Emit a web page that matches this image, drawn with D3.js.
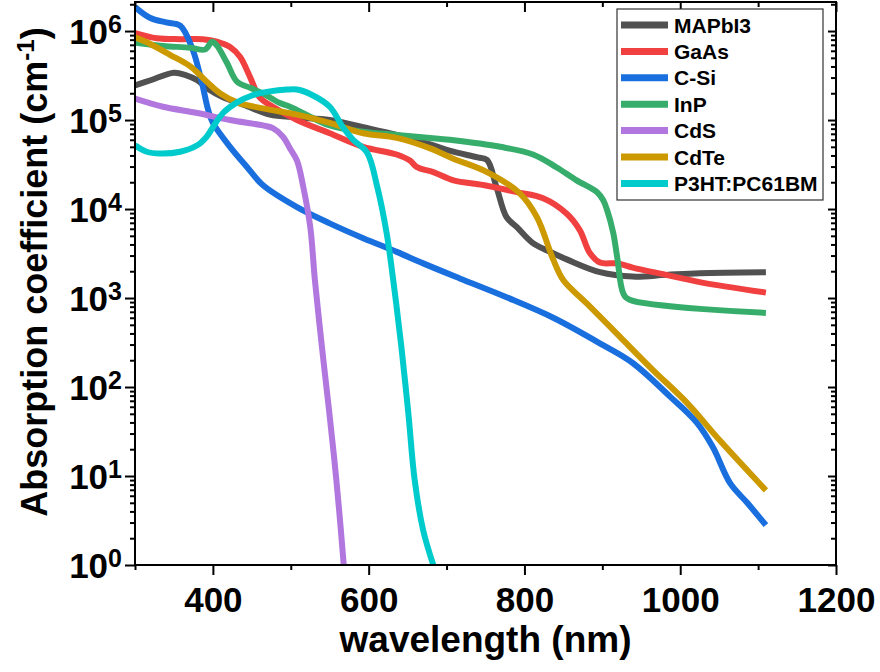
<!DOCTYPE html>
<html><head><meta charset="utf-8">
<script src="https://cdn.jsdelivr.net/npm/d3@7"></script>
<style>
body{margin:0;background:#fff}
svg{display:block}
text{font-family:Arial,"Liberation Sans",sans-serif;font-weight:bold;fill:#000}
</style>
</head><body><svg id="c" width="880" height="672"></svg>
<script>
// ---------- data ----------
const seriesNames = ["MAPbI3", "GaAs", "C-Si", "InP", "CdS", "CdTe", "P3HT:PC61BM"];
const seriesColors = ["#515151", "#F14040", "#1A6FDF", "#37AD6B", "#B177DE", "#CC9900", "#00CBCC"];

const mapbi3WL  = [300,320,350,365,380,395,413,440,473,508,550,593,636,680,705,740,752,764,777,790,810,830,855,897,939,982,1025,1110];
const mapbi3Abs = [2.45e5,2.8e5,3.4e5,3.2e5,2.8e5,2.2e5,1.8e5,1.48e5,1.15e5,1.07e5,1.0e5,8.3e4,6.8e4,5.3e4,4.5e4,3.8e4,3.55e4,1.78e4,8.1e3,6.3e3,4.2e3,3.4e3,2.7e3,1.95e3,1.74e3,1.82e3,1.9e3,1.95e3];

const gaasWL  = [300,328,358,387,405,422,435,448,460,477,508,550,593,636,653,662,683,709,747,790,824,854,871,884,897,919,939,982,1025,1110];
const gaasAbs = [9.5e5,8.3e5,8.1e5,8.1e5,7.6e5,6.6e5,5.1e5,3.0e5,1.8e5,1.41e5,1.0e5,7.1e4,5.0e4,4.1e4,3.5e4,2.95e4,2.6e4,2.1e4,1.86e4,1.55e4,1.32e4,8.9e3,5.8e3,3.2e3,2.5e3,2.45e3,2.2e3,1.82e3,1.51e3,1.15e3];

const csiWL  = [300,319,340,358,374,386,394,400,422,444,464,508,550,593,636,670,717,777,837,901,939,987,1021,1042,1064,1086,1110];
const csiAbs = [1.86e6,1.41e6,1.25e6,1.15e6,6.2e5,2.6e5,1.29e5,9.3e4,5.0e4,2.95e4,1.86e4,1.05e4,6.9e3,4.7e3,3.3e3,2.45e3,1.66e3,1.02e3,600,295,186,78,40,21,8.3,5.0,2.8];

const inpWL  = [300,336,371,390,399,405,418,431,448,464,486,499,550,593,636,679,704,769,811,841,867,893,901,906,914,919,927,935,1110];
const inpAbs = [7.4e5,6.8e5,6.5e5,6.2e5,7.6e5,6.9e5,4.4e5,2.7e5,2.3e5,2.0e5,1.55e5,1.41e5,8.7e4,7.4e4,6.8e4,6.3e4,6.0e4,5.0e4,4.1e4,2.95e4,2.1e4,1.55e4,1.26e4,9.8e3,5.4e3,2.9e3,1.12e3,955,680];

const cdsWL  = [300,336,380,422,464,477,490,499,508,516,525,531,540,549,556,562,568];
const cdsAbs = [1.74e5,1.41e5,1.2e5,1.0e5,8.7e4,8.1e4,6.5e4,4.8e4,3.5e4,1.78e4,6.3e3,1.58e3,282,56,15,4.2,1.0];

const cdteWL  = [300,319,345,371,392,409,431,464,508,550,593,636,679,708,752,794,816,837,850,880,923,965,1009,1051,1110];
const cdteAbs = [8.5e5,7.2e5,5.4e5,4.0e5,2.7e5,2.0e5,1.58e5,1.35e5,1.15e5,9.3e4,7.1e4,6.3e4,4.8e4,3.7e4,2.6e4,1.5e4,8.1e3,2.7e3,1.58e3,870,363,155,66,25,6.9];

const p3htWL  = [300,315,332,358,380,392,400,413,431,451,473,495,508,528,550,567,580,598,611,623,633,642,651,659,670,683];
const p3htAbs = [5.2e4,4.4e4,4.2e4,4.4e4,5.2e4,6.5e4,8.3e4,1.2e5,1.58e5,1.9e5,2.1e5,2.2e5,2.2e5,1.9e5,1.41e5,8.3e4,6.0e4,4.3e4,1.78e4,5.4e3,1.26e3,282,50,9.1,2.45,1.0];

const xMajorTicks = [400, 600, 800, 1000, 1200];
const xMinorTicks = [300, 500, 700, 900, 1100];
const yMajorTicks = [1, 10, 100, 1000, 10000, 100000, 1000000];
const yTickExponents = ["0", "1", "2", "3", "4", "5", "6"];
const xTitle = "wavelength (nm)";
const yTitleMain = "Absorption coefficient (cm";
const yTitleSup = "-1";

// ---------- layout ----------
const L = 135, R = 836, T = 2, B = 565;
const svg = d3.select("#c");
const x = d3.scaleLinear().domain([300, 1200]).range([L, R]);
const y = d3.scaleLog().domain([1, 2.12e6]).range([B, T]);

const allWL = [mapbi3WL, gaasWL, csiWL, inpWL, cdsWL, cdteWL, p3htWL];
const allAbs = [mapbi3Abs, gaasAbs, csiAbs, inpAbs, cdsAbs, cdteAbs, p3htAbs];
const series = seriesNames.map((n, i) => ({
  name: n, color: seriesColors[i],
  pts: allWL[i].map((w, j) => [w, allAbs[i][j]])
}));

svg.append("clipPath").attr("id", "clip").append("rect")
  .attr("x", L).attr("y", T).attr("width", R - L).attr("height", B - T);

const line = d3.line().x(d => x(d[0])).y(d => y(d[1])).curve(d3.curveCatmullRom.alpha(0.5));
svg.append("g").attr("clip-path", "url(#clip)")
  .selectAll("path").data(series).join("path")
  .attr("d", d => line(d.pts))
  .attr("fill", "none").attr("stroke", d => d.color)
  .attr("stroke-width", 6).attr("stroke-linejoin", "round").attr("stroke-linecap", "butt");

// minor y ticks
const yMinorTicks = [];
for (let d = 0; d <= 6; d++) for (let m = 2; m <= 9; m++) {
  const v = m * Math.pow(10, d);
  if (v <= 2.12e6) yMinorTicks.push(v);
}

function styleAxis(g) {
  g.select(".domain").remove();
  g.selectAll("line").attr("stroke", "#000").attr("stroke-width", 2);
}

// bottom axis
svg.append("g").attr("transform", `translate(0,${B})`)
  .call(d3.axisBottom(x).tickValues(xMinorTicks).tickSize(5).tickFormat(""))
  .call(styleAxis);
const bx = svg.append("g").attr("transform", `translate(0,${B})`)
  .call(d3.axisBottom(x).tickValues(xMajorTicks).tickSize(10).tickPadding(12).tickFormat(d3.format("d")))
  .call(styleAxis);
bx.selectAll("text").attr("font-size", 35).attr("fill", "#000")
  .attr("font-family", "Arial, 'Liberation Sans', sans-serif").attr("font-weight", "bold");

// top axis (ticks inward)
svg.append("g").attr("transform", `translate(0,${T})`)
  .call(d3.axisTop(x).tickValues(xMinorTicks).tickSize(-5).tickFormat(""))
  .call(styleAxis);
svg.append("g").attr("transform", `translate(0,${T})`)
  .call(d3.axisTop(x).tickValues(xMajorTicks).tickSize(-10).tickFormat(""))
  .call(styleAxis);

// left axis
svg.append("g").attr("transform", `translate(${L},0)`)
  .call(d3.axisLeft(y).tickValues(yMinorTicks).tickSize(5).tickFormat(""))
  .call(styleAxis);
const ly = svg.append("g").attr("transform", `translate(${L},0)`)
  .call(d3.axisLeft(y).tickValues(yMajorTicks).tickSize(10).tickFormat(""))
  .call(styleAxis);
ly.selectAll(".tick").each(function(d, i) {
  const t = d3.select(this).append("text")
    .attr("x", -13).attr("y", 12).attr("text-anchor", "end")
    .attr("font-size", 35).attr("fill", "#000");
  t.append("tspan").text("10");
  t.append("tspan").attr("font-size", 25).attr("dy", -11).text(yTickExponents[i]);
});

// right axis (ticks inward)
svg.append("g").attr("transform", `translate(${R},0)`)
  .call(d3.axisRight(y).tickValues(yMinorTicks).tickSize(-5).tickFormat(""))
  .call(styleAxis);
svg.append("g").attr("transform", `translate(${R},0)`)
  .call(d3.axisRight(y).tickValues(yMajorTicks).tickSize(-8).tickFormat(""))
  .call(styleAxis);

// frame
svg.append("rect").attr("x", L).attr("y", T).attr("width", R - L).attr("height", B - T)
  .attr("fill", "none").attr("stroke", "#000").attr("stroke-width", 2);

// titles
svg.append("text").attr("x", (L + R) / 2).attr("y", 652).attr("text-anchor", "middle")
  .attr("font-size", 37).text(xTitle);
const yt = svg.append("text").attr("transform", "translate(47,272) rotate(-90)")
  .attr("text-anchor", "middle").attr("font-size", 36);
yt.append("tspan").text(yTitleMain);
yt.append("tspan").attr("font-size", 24).attr("dy", -13).text(yTitleSup);
yt.append("tspan").attr("dy", 13).text(")");

// legend
const lg = svg.append("g");
lg.append("rect").attr("x", 617).attr("y", 9).attr("width", 206).attr("height", 191)
  .attr("fill", "#fff").attr("stroke", "#333").attr("stroke-width", 1.2);
series.forEach((s, i) => {
  const cy = 25 + i * 26.4;
  lg.append("line").attr("x1", 621).attr("x2", 668).attr("y1", cy).attr("y2", cy)
    .attr("stroke", s.color).attr("stroke-width", 7);
  lg.append("text").attr("x", 674).attr("y", cy).attr("dy", "0.36em")
    .attr("font-size", 21).text(s.name);
});
</script>
</body></html>
